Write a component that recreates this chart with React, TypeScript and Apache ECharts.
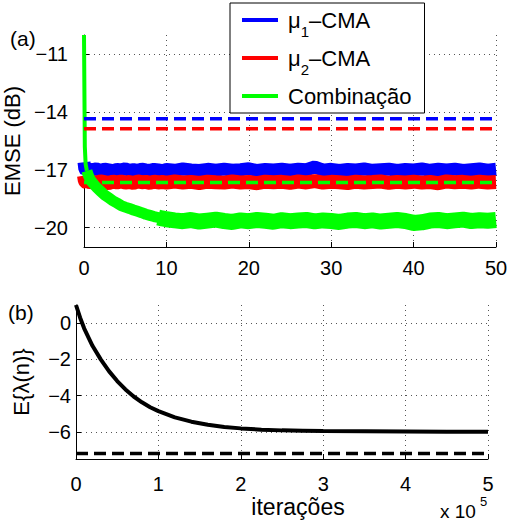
import React, { useEffect, useRef } from 'react';
import * as echarts from 'echarts';

const FONT = '"Liberation Sans", Arial, Helvetica, sans-serif';

// ---- top panel (a): EMSE (dB) vs iterations
const xTop = [0, 0.1, 0.2, 0.35, 0.5, 0.75, 1, 1.5, 2, 2.5, 3, 3.5, 4, 4.5, 5, 5.5, 6, 6.5, 7, 7.5, 8, 8.5, 9, 9.5, 10,
  11, 12, 13, 14, 15, 16, 17, 18, 19, 20, 21, 22, 23, 24, 25, 26, 27, 28, 29, 30,
  31, 32, 33, 34, 35, 36, 37, 38, 39, 40, 41, 42, 43, 44, 45, 46, 47, 48, 49, 50];

const yMu1 = [-16.6, -16.95, -17.0, -16.98, -17.02, -16.97, -17.0, -16.95, -17.03, -16.96, -17.0, -17.04, -16.97, -17.0, -16.94, -17.02, -16.98, -17.03, -16.96, -17.0, -17.02, -16.97, -17.0, -17.04, -16.98,
  -17.02, -16.95, -17.0, -17.03, -16.97, -17.01, -16.96, -17.02, -16.99, -16.94,
  -17.03, -16.98, -17.0, -16.96, -17.02, -16.97, -16.99, -16.85, -17.01, -16.97,
  -17.03, -16.98, -17.0, -16.95, -17.02, -16.99, -16.96, -17.03, -16.98, -17.0,
  -16.95, -17.02, -16.97, -17.0, -16.96, -17.03, -16.99, -16.95, -17.01, -16.97];

const yMu2 = [-17.3, -17.55, -17.62, -17.66, -17.6, -17.65, -17.62, -17.67, -17.6, -17.64, -17.68, -17.61, -17.65, -17.6, -17.66, -17.63, -17.68, -17.6, -17.64, -17.62, -17.67, -17.61, -17.65, -17.63, -17.66,
  -17.6, -17.65, -17.62, -17.68, -17.61, -17.64, -17.66, -17.6, -17.65, -17.63,
  -17.69, -17.61, -17.64, -17.62, -17.67, -17.6, -17.65, -17.58, -17.66, -17.62,
  -17.64, -17.68, -17.61, -17.65, -17.63, -17.6, -17.67, -17.62, -17.65, -17.61,
  -17.66, -17.63, -17.69, -17.6, -17.64, -17.62, -17.66, -17.61, -17.65, -17.63];

const yComb = [-10, -15.8, -16.7, -17.05, -17.25, -17.5, -17.65, -17.9, -18.1, -18.3, -18.45, -18.6, -18.72, -18.85, -18.93, -19.0, -19.08, -19.15, -19.22, -19.3, -19.36, -19.42, -19.47, -19.52, -19.56,
  -19.62, -19.66, -19.6, -19.68, -19.63, -19.58, -19.65, -19.7, -19.62, -19.66,
  -19.6, -19.64, -19.69, -19.61, -19.66, -19.63, -19.6, -19.67, -19.62, -19.65,
  -19.7, -19.63, -19.6, -19.66, -19.62, -19.68, -19.64, -19.6, -19.65, -19.75,
  -19.72, -19.63, -19.6, -19.66, -19.62, -19.58, -19.65, -19.61, -19.64, -19.6];

// theoretical steady-state levels (dashed)
const theoryX = [0, 50];
const theoryMu1 = -14.35;
const theoryMu2 = -14.87;
const theoryComb = -17.65;

const yTicksTop = [-20, -17, -14, -11];

// ---- bottom panel (b): E{lambda(n)} vs iterations (x 10^5)
const xLam = [0, 0.05, 0.1, 0.2, 0.3, 0.4, 0.5, 0.6, 0.7, 0.8, 0.9, 1.0, 1.2, 1.4, 1.6, 1.8, 2.0, 2.25, 2.5, 2.75, 3.0, 3.5, 4.0, 4.5, 5.0];
const yLam = [1.0, 0.3, -0.3, -1.25, -2.0, -2.65, -3.2, -3.66, -4.05, -4.37, -4.64, -4.86, -5.2, -5.44, -5.61, -5.73, -5.81, -5.88, -5.92, -5.94, -5.96, -5.97, -5.98, -5.99, -6.0];
const lamX = [0, 5];
const lamLimit = -7.2;
const yTicksBottom = [-6, -4, -2, 0];

const legendNames = ['mu1', 'mu2', 'comb'];
const legendLabels: Record<string, string> = {
  mu1: '{f|μ}{s|1}{t|–CMA}',
  mu2: '{f|μ}{s|2}{t|–CMA}',
  comb: '{f|Combinação}',
};

const BLUE = '#0000ff';
const RED = '#ff0000';
const GREEN = '#00ff00';

const minus = (v: number) => (v < 0 ? '−' + Math.abs(v) : String(v));

const pairs = (xs: number[], ys: number[], from = 0, to = xs.length) =>
  xs.slice(from, to).map((x, i) => [x, ys[from + i]]);

const gridLine = { show: true, lineStyle: { color: '#555', width: 1, type: [1, 4] } };
const axisLine = { show: true, onZero: false, lineStyle: { color: '#000', width: 1 } };
const axisTick = { show: true, inside: true, length: 5, lineStyle: { color: '#000' } };
const tickLabel = { color: '#000', fontSize: 20, fontFamily: FONT };

const bandLine = (name: string, color: string, width: number, data: number[][]) => ({
  name, type: 'line', xAxisIndex: 0, yAxisIndex: 0, color,
  showSymbol: false, symbol: 'none', data,
  itemStyle: { color }, lineStyle: { color, width },
});

const dashed = (name: string, color: string, xIdx: number, data: number[][]) => ({
  name, type: 'line', xAxisIndex: xIdx, yAxisIndex: xIdx,
  showSymbol: false, symbol: 'none', data,
  lineStyle: { color, width: 3.5, type: [12, 6] }, z: 3,
});

function buildOption() {
  return {
    animation: false,
    backgroundColor: '#fff',
    grid: [
      { left: 84, top: 35, width: 412, height: 212, outerBoundsMode: 'none' },
      { left: 76, top: 305, width: 412, height: 154, outerBoundsMode: 'none' },
    ],
    xAxis: [
      {
        type: 'value', gridIndex: 0, min: 0, max: 50, interval: 10,
        axisLine, axisTick, splitLine: gridLine,
        axisLabel: { ...tickLabel, margin: 11 },
      },
      {
        type: 'value', gridIndex: 1, min: 0, max: 5, interval: 1,
        axisLine, axisTick, splitLine: gridLine,
        axisLabel: { ...tickLabel, margin: 15 },
        name: 'iterações', nameLocation: 'middle', nameGap: 36,
        nameTextStyle: { color: '#000', fontSize: 23, fontFamily: FONT, padding: [0, 0, 0, 32] },
      },
    ],
    yAxis: [
      {
        type: 'value', gridIndex: 0, min: -21, max: -10,
        axisLine,
        axisTick: { ...axisTick, customValues: yTicksTop },
        splitLine: gridLine,
        axisLabel: { ...tickLabel, margin: 16, customValues: yTicksTop, formatter: minus },
        name: 'EMSE (dB)', nameLocation: 'middle', nameGap: 49,
        nameTextStyle: { color: '#000', fontSize: 22, fontFamily: FONT },
      },
      {
        type: 'value', gridIndex: 1, min: -7.5, max: 1,
        axisLine,
        axisTick: { ...axisTick, customValues: yTicksBottom },
        splitLine: gridLine,
        axisLabel: { ...tickLabel, margin: 5, customValues: yTicksBottom, formatter: minus },
        name: 'E{λ(n)}', nameLocation: 'middle', nameGap: 44,
        nameTextStyle: { color: '#000', fontSize: 22, fontFamily: FONT },
      },
    ],
    legend: {
      data: legendNames,
      orient: 'vertical',
      left: 230,
      top: 3,
      padding: [5, 13, 5, 12],
      itemGap: 7.5,
      itemWidth: 36,
      itemHeight: 4,
      icon: 'rect',
      selectedMode: false,
      backgroundColor: '#fff',
      borderColor: '#000',
      borderWidth: 1,
      borderRadius: 0,
      formatter: (name: string) => legendLabels[name] || name,
      textStyle: {
        color: '#000', fontSize: 22, lineHeight: 24, fontFamily: FONT,
        rich: {
          f: { fontSize: 22, fontFamily: FONT, padding: [0, 0, 0, 5] },
          t: { fontSize: 22, fontFamily: FONT },
          s: { fontSize: 15, fontFamily: FONT, padding: [22, 0, 0, 0] },
        },
      },
      z: 10,
    },
    series: [
      bandLine('mu1', BLUE, 13, pairs(xTop, yMu1)),
      bandLine('mu2', RED, 14, pairs(xTop, yMu2)),
      bandLine('comb', GREEN, 4, pairs(xTop, yComb, 0, 4)),
      bandLine('comb', GREEN, 11, pairs(xTop, yComb, 3, 24)),
      bandLine('comb', GREEN, 16, pairs(xTop, yComb, 22)),
      dashed('theory-mu1', BLUE, 0, theoryX.map((x) => [x, theoryMu1])),
      dashed('theory-mu2', RED, 0, theoryX.map((x) => [x, theoryMu2])),
      dashed('theory-comb', GREEN, 0, theoryX.map((x) => [x, theoryComb])),
      {
        name: 'lambda', type: 'line', xAxisIndex: 1, yAxisIndex: 1,
        showSymbol: false, symbol: 'none',
        data: pairs(xLam, yLam),
        lineStyle: { color: '#000', width: 4 },
      },
      dashed('lambda-limit', '#000', 1, lamX.map((x) => [x, lamLimit])),
    ],
    graphic: [
      { type: 'text', x: 10, y: 38, style: { text: '(a)', fontSize: 21, fontFamily: FONT, fill: '#000', verticalAlign: 'middle' } },
      { type: 'text', x: 8, y: 312, style: { text: '(b)', fontSize: 21, fontFamily: FONT, fill: '#000', verticalAlign: 'middle' } },
      { type: 'text', x: 440, y: 511, style: { text: 'x 10', fontSize: 19, fontFamily: FONT, fill: '#000', verticalAlign: 'middle' } },
      { type: 'text', x: 480, y: 501, style: { text: '5', fontSize: 13, fontFamily: FONT, fill: '#000', verticalAlign: 'middle' } },
    ],
  };
}

export default function App() {
  const ref = useRef<HTMLDivElement>(null);
  useEffect(() => {
    document.body.style.margin = '0';
    const chart = echarts.init(ref.current as HTMLDivElement, null, { renderer: 'svg', width: 507, height: 521 });
    chart.setOption(buildOption() as any);
    return () => chart.dispose();
  }, []);
  return <div ref={ref} style={{ width: 507, height: 521, background: '#fff' }} />;
}
